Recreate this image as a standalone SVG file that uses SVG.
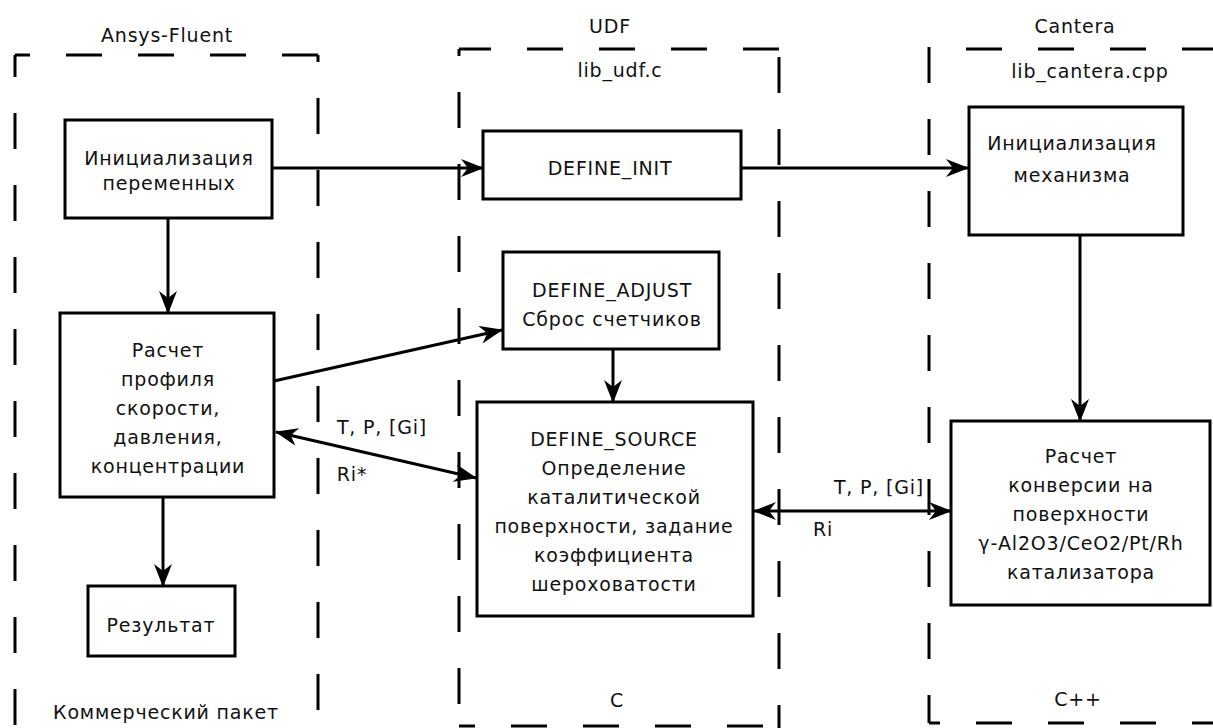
<svg xmlns="http://www.w3.org/2000/svg" width="1213" height="728" viewBox="0 0 1213 728">
<style>
.t{font-family:"DejaVu Sans","Liberation Sans",sans-serif;font-size:19px;letter-spacing:0.8px;fill:#111;text-anchor:middle}
.box{fill:#fff;stroke:#000;stroke-width:3}
.dash{fill:none;stroke:#000;stroke-width:3;stroke-dasharray:36 36}
.c{fill:none;stroke:#000;stroke-width:3}
</style>
<defs>
<marker id="ah" markerUnits="userSpaceOnUse" markerWidth="24" markerHeight="18" refX="22" refY="9" orient="auto-start-reverse" viewBox="0 0 24 18">
<path d="M0,0 L23,9 L0,18 L7,9 z" fill="#000"/>
</marker>
</defs>
<rect width="1213" height="728" fill="#fff"/>
<g id="frames">
<line class="dash" x1="15" y1="55" x2="318" y2="55" stroke-dashoffset="21"/>
<line class="dash" x1="15" y1="55" x2="15" y2="728" stroke-dashoffset="14"/>
<line class="dash" x1="318" y1="55" x2="318" y2="728" stroke-dashoffset="29"/>
<line class="dash" x1="459" y1="49" x2="780" y2="49" stroke-dashoffset="4"/>
<line class="dash" x1="459" y1="49" x2="459" y2="728" stroke-dashoffset="29"/>
<line class="dash" x1="779" y1="49" x2="779" y2="728" stroke-dashoffset="-8"/>
<line class="dash" x1="459" y1="726" x2="779" y2="726" stroke-dashoffset="20"/>
<line class="dash" x1="929" y1="49" x2="1213" y2="49" stroke-dashoffset="35"/>
<line class="dash" x1="929" y1="47" x2="929" y2="723" stroke-dashoffset="0"/>
<line class="dash" x1="929" y1="723" x2="1213" y2="723" stroke-dashoffset="25"/>
<text class="t" x="167" y="42">Ansys-Fluent</text>
<text class="t" x="166" y="719">Коммерческий пакет</text>
<text class="t" x="610" y="33">UDF</text>
<text class="t" x="620" y="77">lib_udf.c</text>
<text class="t" x="617" y="707">C</text>
<text class="t" x="1075" y="33">Cantera</text>
<text class="t" x="1090" y="78">lib_cantera.cpp</text>
<text class="t" x="1078" y="706">C++</text>
</g>
<g id="connectors">
<line class="c" x1="272" y1="168" x2="483" y2="168" marker-end="url(#ah)"/>
<line class="c" x1="741" y1="168" x2="968" y2="168" marker-end="url(#ah)"/>
<line class="c" x1="168" y1="218" x2="168" y2="313" marker-end="url(#ah)"/>
<line class="c" x1="1080" y1="235" x2="1080" y2="421" marker-end="url(#ah)"/>
<line class="c" x1="274" y1="381" x2="502" y2="330" marker-end="url(#ah)"/>
<line class="c" x1="613" y1="349" x2="613" y2="402" marker-end="url(#ah)"/>
<line class="c" x1="276" y1="432" x2="476" y2="478" marker-start="url(#ah)" marker-end="url(#ah)"/>
<line class="c" x1="754" y1="511" x2="951" y2="511" marker-start="url(#ah)" marker-end="url(#ah)"/>
<line class="c" x1="163" y1="497" x2="163" y2="586" marker-end="url(#ah)"/>
<text class="t" x="382" y="434">T, P, [Gi]</text>
<text class="t" x="352" y="481">Ri*</text>
<text class="t" x="879" y="494">T, P, [Gi]</text>
<text class="t" x="823" y="536">Ri</text>
</g>
<g id="n_init_vars">
<rect class="box" x="65" y="120" width="207" height="98"/>
<text class="t" x="169" y="165">Инициализация</text>
<text class="t" x="169" y="190">переменных</text>
</g>
<g id="n_define_init">
<rect class="box" x="483" y="131" width="258" height="68"/>
<text class="t" x="610" y="175">DEFINE_INIT</text>
</g>
<g id="n_init_mech">
<rect class="box" x="969" y="107" width="214" height="128"/>
<text class="t" x="1072" y="150">Инициализация</text>
<text class="t" x="1072" y="182">механизма</text>
</g>
<g id="n_calc_profile">
<rect class="box" x="60" y="313" width="214" height="184"/>
<text class="t" x="168" y="357">Расчет</text>
<text class="t" x="168" y="386">профиля</text>
<text class="t" x="168" y="415">скорости,</text>
<text class="t" x="168" y="444">давления,</text>
<text class="t" x="168" y="473">концентрации</text>
</g>
<g id="n_result">
<rect class="box" x="88" y="586" width="147" height="70"/>
<text class="t" x="161" y="632">Результат</text>
</g>
<g id="n_define_adjust">
<rect class="box" x="503" y="252" width="216" height="97"/>
<text class="t" x="612" y="297">DEFINE_ADJUST</text>
<text class="t" x="612" y="326">Сброс счетчиков</text>
</g>
<g id="n_define_source">
<rect class="box" x="477" y="402" width="276" height="214"/>
<text class="t" x="614" y="446">DEFINE_SOURCE</text>
<text class="t" x="614" y="475">Определение</text>
<text class="t" x="614" y="504">каталитической</text>
<text class="t" x="614" y="533">поверхности, задание</text>
<text class="t" x="614" y="562">коэффициента</text>
<text class="t" x="614" y="591">шероховатости</text>
</g>
<g id="n_calc_conv">
<rect class="box" x="951" y="421" width="259" height="184"/>
<text class="t" x="1081" y="463">Расчет</text>
<text class="t" x="1081" y="492">конверсии на</text>
<text class="t" x="1081" y="521">поверхности</text>
<text class="t" x="1081" y="550">γ-Al2O3/CeO2/Pt/Rh</text>
<text class="t" x="1081" y="579">катализатора</text>
</g>
</svg>
